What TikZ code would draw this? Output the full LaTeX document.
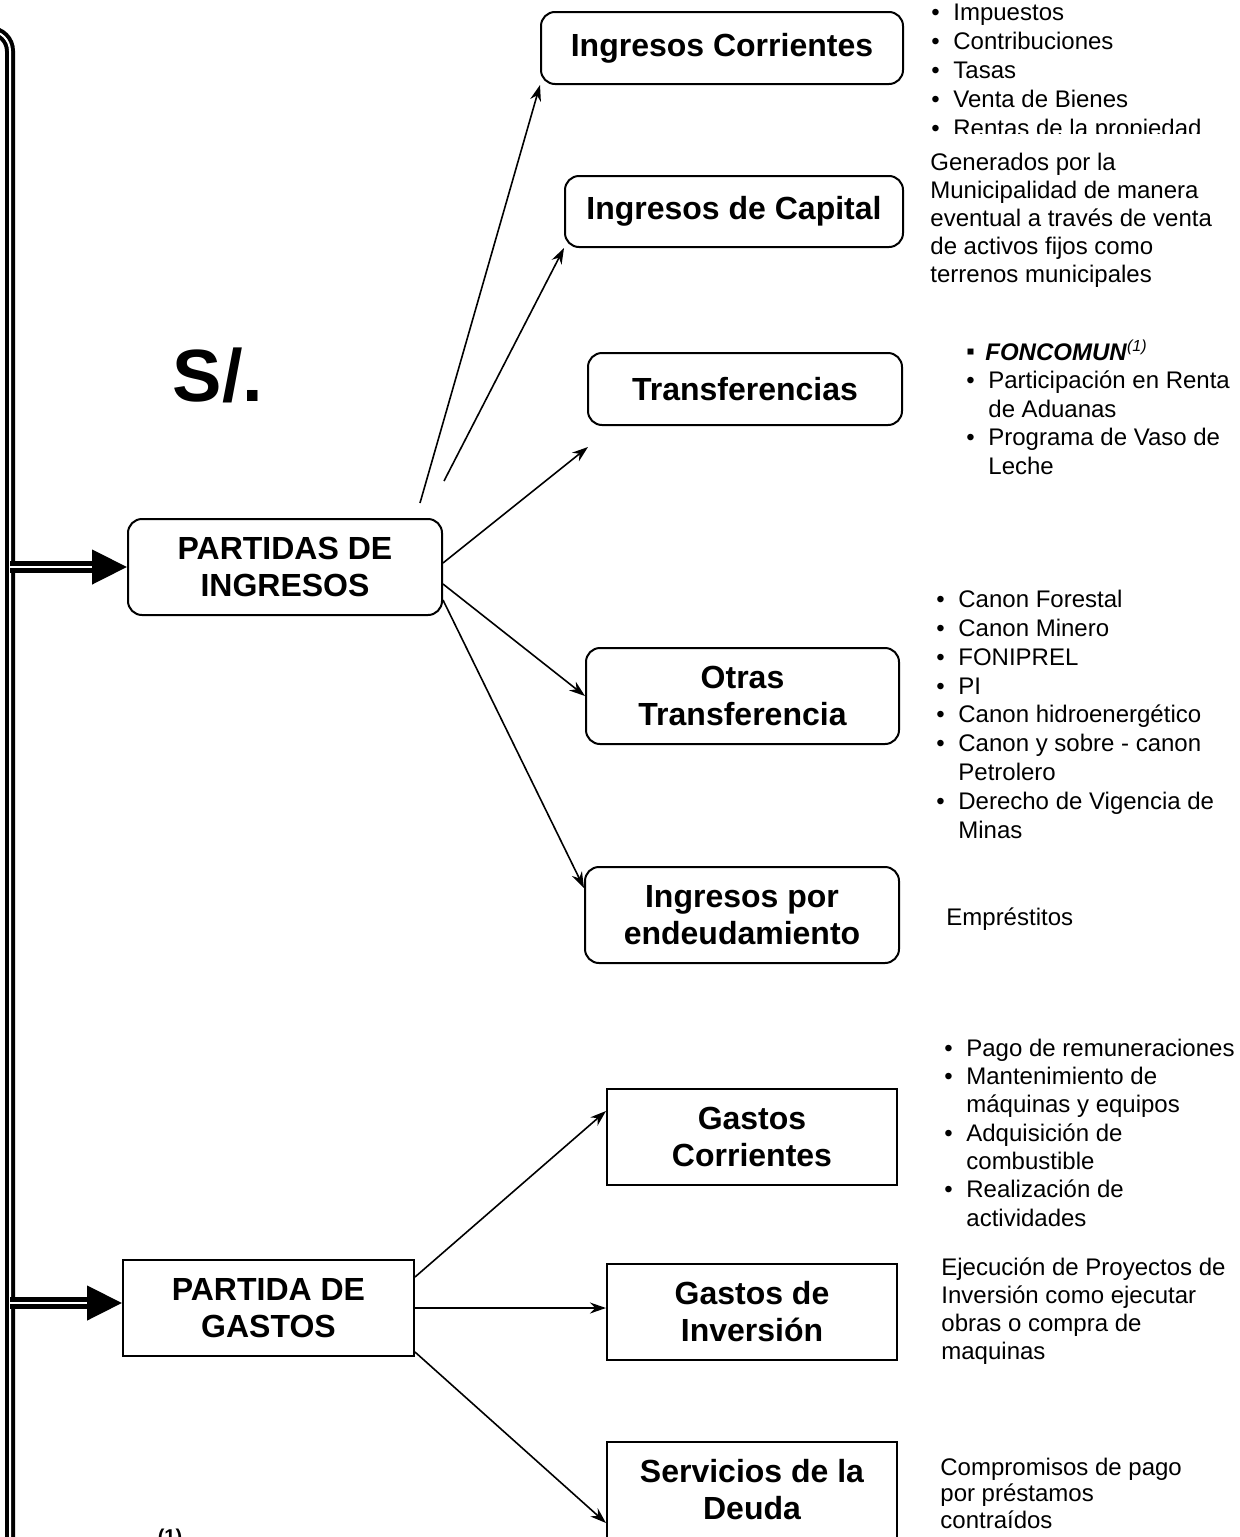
\documentclass[tikz,border=0pt]{standalone}
\usepackage{fontspec}
\setmainfont{Liberation Sans}
\usepackage{tikz}
\usetikzlibrary{arrows.meta,positioning}

\newcommand{\bul}{\makebox[11pt][l]{\textbullet}}
\newcommand{\cuad}{\makebox[9.5pt][l]{\raisebox{0.5pt}{▪}}}
\newcommand{\sig}{\hspace*{11pt}}

\begin{document}
\begin{tikzpicture}[x=0.5pt, y=-0.5pt,
    rcaja/.style = {draw, line width=1pt, rounded corners=7pt, align=center, inner sep=0pt,
                    minimum width=157pt, minimum height=48pt, font=\bfseries\fontsize{16}{18.5}\selectfont},
    caja/.style = {draw, line width=1pt, align=center, inner sep=0pt,
                   minimum width=145pt, minimum height=48pt, font=\bfseries\fontsize{16}{18.5}\selectfont},
    lista/.style = {anchor=base west, align=left, inner sep=0pt, font=\fontsize{12}{14.25}\selectfont},
    flecha/.style = {-{Stealth[length=8pt,width=5.5pt]}, line width=0.8pt},
    tronco/.style = {line width=2pt, double, double distance=1pt}]
    \useasboundingbox (0,0) rectangle (1239,1537);

    \node[rcaja, minimum width=181pt, minimum height=36pt] (ic) at (722,48) {Ingresos Corrientes};
    \node[rcaja, minimum width=169pt, minimum height=35.5pt] (icap) at (734,211.5) {Ingresos de Capital};
    \node[rcaja, minimum height=36pt] (tr) at (745,389) {Transferencias};
    \node[rcaja] (pi) at (285,567) {PARTIDAS DE\\ INGRESOS};
    \node[rcaja, minimum width=156.5pt] (ot) at (742.5,696) {Otras\\ Transferencia};
    \node[rcaja] (ie) at (742,915) {Ingresos por\\ endeudamiento};

    \node[caja] (gc) at (752,1137) {Gastos\\ Corrientes};
    \node[caja, minimum width=145.5pt] (pg) at (268.5,1308) {PARTIDA DE\\ GASTOS};
    \node[caja] (gi) [below=38.5pt of gc] {Gastos de\\ Inversión};
    \node[caja] (sd) [below=40pt of gi] {Servicios de la\\ Deuda};

    \node[font=\bfseries\fontsize{37}{40}\selectfont] (moneda) at (218,375) {S/.};
    \node[anchor=base, font=\bfseries\fontsize{10}{12}\selectfont] (nota) at (170,1543) {(1)};

    % listas (base = ultima linea)
    \begin{scope}
        \clip (900,-10) rectangle (1239,133);
        \node[lista, font=\fontsize{12}{14.5}\selectfont] (l1) at (931,136) {\bul Impuestos\\ \bul Contribuciones\\ \bul Tasas\\ \bul Venta de Bienes\\ \bul Rentas de la propiedad};
    \end{scope}
    \node[lista, font=\fontsize{12}{13.9}\selectfont] (d1) at (930,282) {Generados por la\\ Municipalidad de manera\\ eventual a través de venta\\ de activos fijos como\\ terrenos municipales};
    \node[lista] (l2) at (966,474) {\cuad\textbf{\textit{FONCOMUN}}\textsuperscript{\textit{(1)}}\\ \bul Participación en Renta\\ \sig de Aduanas\\ \bul Programa de Vaso de\\ \sig Leche};
    \node[lista, font=\fontsize{12}{14.4}\selectfont] (l3) at (936,838) {\bul Canon Forestal\\ \bul Canon Minero\\ \bul FONIPREL\\ \bul PI\\ \bul Canon hidroenergético\\ \bul Canon y sobre - canon\\ \sig Petrolero\\ \bul Derecho de Vigencia de\\ \sig Minas};
    \node[lista] (d2) at (946,925) {Empréstitos};
    \node[lista, font=\fontsize{12}{14.15}\selectfont] (l4) at (944,1226) {\bul Pago de remuneraciones\\ \bul Mantenimiento de\\ \sig máquinas y equipos\\ \bul Adquisición de\\ \sig combustible\\ \bul Realización de\\ \sig actividades};
    \node[lista, font=\fontsize{12}{13.85}\selectfont] (d3) at (941,1359) {Ejecución de Proyectos de\\ Inversión como ejecutar\\ obras o compra de\\ maquinas};
    \node[lista, font=\fontsize{12}{13.25}\selectfont] (d4) at (940,1528) {Compromisos de pago\\ por préstamos\\ contraídos};

    % tronco
    \draw[tronco, rounded corners=10pt] (-40,31) -- (10,31) -- (10,1580);
    \coordinate (t1) at (10,567);
    \coordinate (t2) at (10,1303);
    \draw[tronco, line width=2.3pt, -{Triangle[length=17.5pt,width=17pt]}] (t1) -- (pi.west);
    \draw[tronco, line width=2.3pt, -{Triangle[length=17.5pt,width=17pt]}] (t2) -- (t2 -| pg.west);

    \coordinate (c1) at (420,503);
    \coordinate (c2) at (444,481);
    \coordinate (c3) at (588,447);
    \draw[flecha] (c1) -- (ic.south west);
    \draw[flecha] (c2) -- (icap.south west);
    \draw[flecha] ([yshift=2pt]pi.east) -- (c3);
    \draw[flecha] ([yshift=-8.5pt]pi.east) -- (ot.west);
    \draw[flecha] ([yshift=-16.5pt]pi.east) -- ([yshift=13.5pt]ie.west);
    \draw[flecha] ([yshift=15.5pt]pg.east) -- ([yshift=13pt]gc.west);
    \draw[flecha] (pg.east) -- (pg.east -| gi.west);
    \draw[flecha] ([yshift=-22pt]pg.east) -- ([yshift=-16.5pt]sd.west);
\end{tikzpicture}
\end{document}
